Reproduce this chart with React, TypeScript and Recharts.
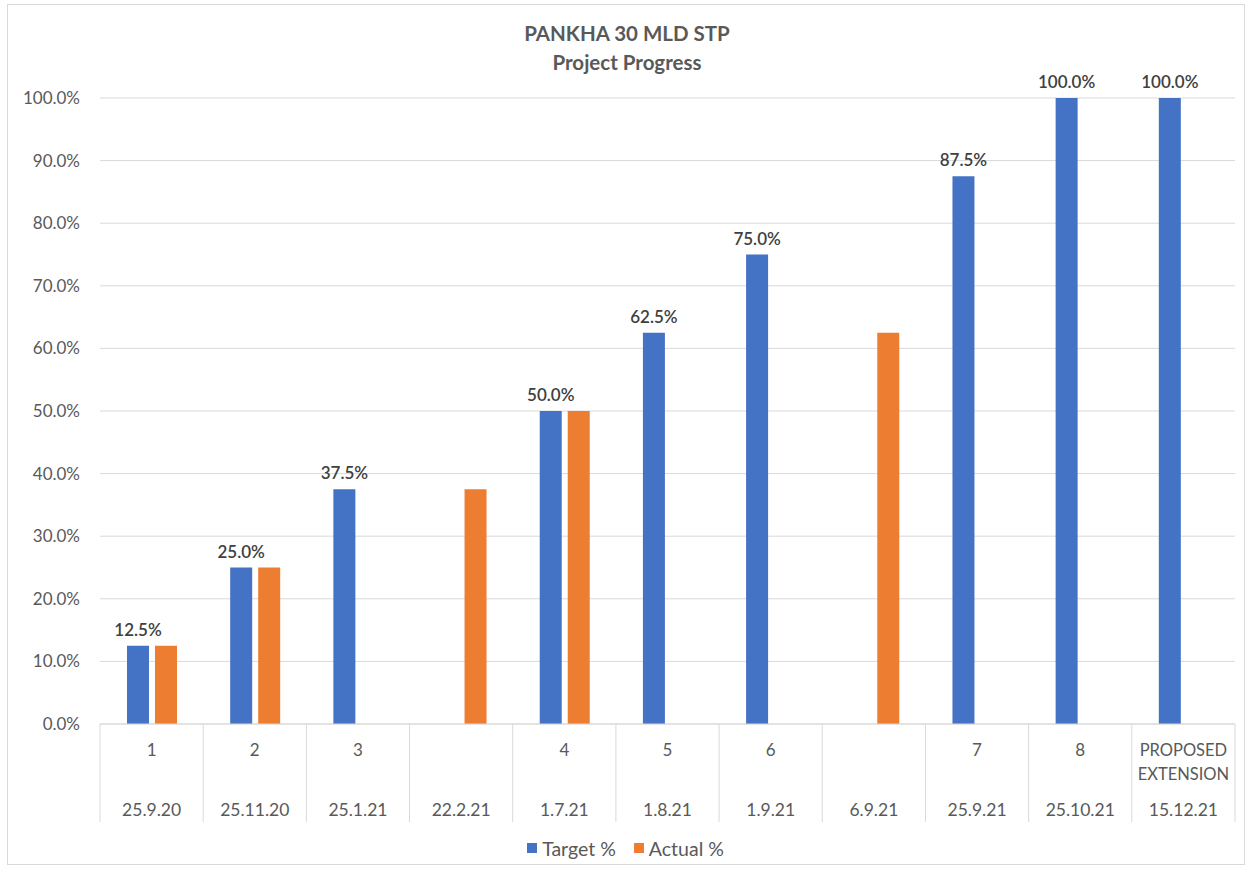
import React from 'react';
import { BarChart, Bar, XAxis, YAxis, CartesianGrid, LabelList, Legend } from 'recharts';

const dates = ['25.9.20', '25.11.20', '25.1.21', '22.2.21', '1.7.21', '1.8.21', '1.9.21', '6.9.21', '25.9.21', '25.10.21', '15.12.21'];
const stages = ['1', '2', '3', '', '4', '5', '6', '', '7', '8', 'PROPOSED EXTENSION'];
const targetPct: (number | null)[] = [12.5, 25, 37.5, null, 50, 62.5, 75, null, 87.5, 100, 100];
const actualPct: (number | null)[] = [12.5, 25, null, 37.5, 50, null, null, 62.5, null, null, null];
const yTicks = [0, 10, 20, 30, 40, 50, 60, 70, 80, 90, 100];
const seriesOrder = ['Target %', 'Actual %'];

const data = dates.map((d, i) => ({ date: d, stage: stages[i], target: targetPct[i], actual: actualPct[i] }));

const FONT = 'Lato, "Open Sans", sans-serif';
const TEXT = '#595959';
const GRID = '#d9d9d9';
const BLUE = '#4472C4';
const ORANGE = '#ED7D31';

const fmt = (v: any) => (v === null || v === undefined || v === '' ? '' : `${Number(v).toFixed(1)}%`);

const XTick = (props: any) => {
  const { x, y, payload, index, visibleTicksCount } = props;
  const half = payload && payload.offset ? payload.offset : 51.6;
  const top = y;
  const stage = stages[index] || '';
  const words = stage.split(' ');
  const isLast = index === (visibleTicksCount ? visibleTicksCount - 1 : dates.length - 1);
  return (
    <g>
      <line x1={x - half} x2={x - half} y1={top} y2={top + 98} stroke={GRID} strokeWidth={1} />
      {isLast && <line x1={x + half} x2={x + half} y1={top} y2={top + 98} stroke={GRID} strokeWidth={1} />}
      {words.length > 1 ? (
        words.map((w, k) => (
          <text key={k} x={x} y={top + 32 + k * 24} textAnchor="middle" fill={TEXT} fontSize={16.5} fontFamily={FONT}>
            {w}
          </text>
        ))
      ) : (
        <text x={x} y={top + 32} textAnchor="middle" fill={TEXT} fontSize={17} fontFamily={FONT}>
          {stage}
        </text>
      )}
      <text x={x} y={top + 92} textAnchor="middle" fill={TEXT} fontSize={17.5} fontFamily={FONT}>
        {payload.value}
      </text>
    </g>
  );
};

const LegendContent = (props: any) => {
  const items = [...(props.payload || [])].sort(
    (a: any, b: any) => seriesOrder.indexOf(a.value) - seriesOrder.indexOf(b.value)
  );
  return (
    <div
      style={{
        display: 'flex',
        justifyContent: 'center',
        alignItems: 'center',
        height: 24,
        paddingLeft: 16,
        fontFamily: FONT,
        fontSize: 19.5,
        color: TEXT,
      }}
    >
      {items.map((p: any, i: number) => (
        <div key={i} style={{ display: 'flex', alignItems: 'center', margin: '0 9px' }}>
          <span style={{ display: 'inline-block', width: 10, height: 10, background: p.color, marginRight: 5 }} />
          <span>{p.value}</span>
        </div>
      ))}
    </div>
  );
};

export default function App() {
  return (
    <div style={{ position: 'absolute', left: 0, top: 0, width: 1254, height: 869, background: '#fff' }}>
      <div
        style={{
          position: 'absolute',
          left: 7,
          top: 4,
          width: 1238,
          height: 861,
          border: `1px solid ${GRID}`,
          boxSizing: 'border-box',
        }}
      />
      <div
        style={{
          position: 'absolute',
          left: 0,
          top: 19,
          width: 1254,
          textAlign: 'center',
          fontFamily: FONT,
          fontWeight: 700,
          fontSize: 20.5,
          color: TEXT,
          lineHeight: '29px',
        }}
      >
        <div>PANKHA 30 MLD STP</div>
        <div>Project Progress</div>
      </div>
      <div style={{ position: 'absolute', left: 0, top: 0 }}>
        <BarChart
          width={1254}
          height={869}
          data={data}
          margin={{ top: 98, right: 19, left: 0, bottom: 9 }}
          barSize={22}
          barGap={6}
        >
          <CartesianGrid vertical={false} stroke={GRID} />
          <XAxis
            dataKey="date"
            height={112}
            tickLine={false}
            axisLine={{ stroke: GRID }}
            tickSize={0}
            tickMargin={0}
            interval={0}
            tick={<XTick />}
          />
          <YAxis
            width={100}
            domain={[0, 100]}
            ticks={yTicks}
            interval={0}
            tickLine={false}
            axisLine={false}
            tickSize={0}
            tickMargin={20}
            tickFormatter={fmt}
            tick={{ fill: TEXT, fontSize: 17, fontFamily: FONT }}
          />
          <Legend verticalAlign="bottom" height={24} content={<LegendContent />} />
          <Bar dataKey="target" name="Target %" fill={BLUE} isAnimationActive={false}>
            <LabelList
              dataKey="target"
              position="top"
              offset={10}
              formatter={fmt}
              fill="#404040"
              fontSize={17}
              fontWeight={600}
              fontFamily={FONT}
            />
          </Bar>
          <Bar dataKey="actual" name="Actual %" fill={ORANGE} isAnimationActive={false} />
        </BarChart>
      </div>
    </div>
  );
}
